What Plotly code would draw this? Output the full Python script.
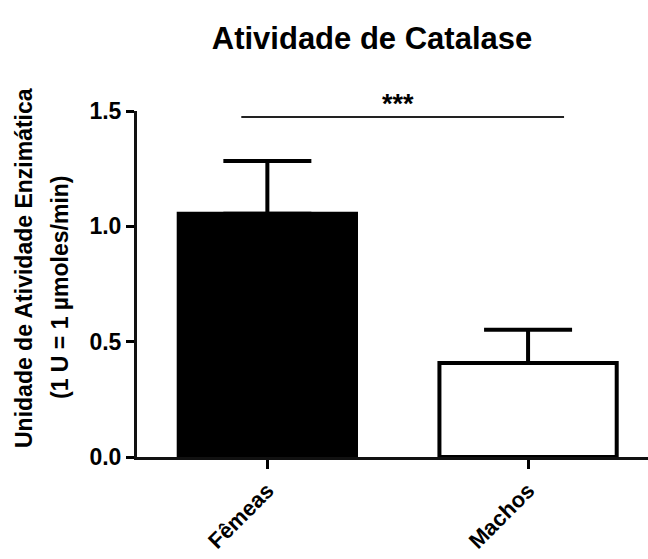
import plotly.graph_objects as go

categories = ["Fêmeas", "Machos"]
means = [1.055, 0.407]
sem = [0.228, 0.145]
fill_colors = ["#000000", "#ffffff"]

title_text = "Atividade de Catalase"
ytitle_line1 = "Unidade de Atividade Enzimática"
ytitle_line2 = "(1 U = 1 µmoles/min)"
sig_text = "***"
sig_y = 1.474
tick_vals = [0.0, 0.5, 1.0, 1.5]

FONT = "Liberation Sans, Arial, Helvetica, sans-serif"

plot_left = 137
plot_right = 648
plot_top = 111
plot_bottom = 457
plot_w = plot_right - plot_left
plot_h = plot_bottom - plot_top

fig = go.Figure()
fig.add_trace(go.Bar(
    x=categories,
    y=means,
    width=0.68,
    marker=dict(color=fill_colors, line=dict(color="#000000", width=4)),
    error_y=dict(type="data", array=sem, arrayminus=[0, 0], symmetric=False,
                 color="#000000", thickness=4, width=44),
    showlegend=False,
))

fig.add_shape(type="line", xref="x", yref="y", x0=-0.1, x1=1.138, y0=sig_y, y1=sig_y,
              line=dict(color="#222222", width=2))
fig.add_annotation(text=sig_text, xref="x", yref="y", x=0.502, y=sig_y, yanchor="bottom",
                   showarrow=False, yshift=-4,
                   font=dict(family=FONT, size=27, color="#000000", weight="bold"))

fig.add_annotation(text=ytitle_line1, xref="paper", yref="paper",
                   x=(24 - plot_left) / plot_w, y=(plot_bottom - 268) / plot_h,
                   xanchor="center", yanchor="middle",
                   showarrow=False, textangle=-90,
                   font=dict(family=FONT, size=23, color="#000000", weight="bold"))
fig.add_annotation(text=ytitle_line2, xref="paper", yref="paper",
                   x=(60 - plot_left) / plot_w, y=(plot_bottom - 287) / plot_h,
                   xanchor="center", yanchor="middle",
                   showarrow=False, textangle=-90,
                   font=dict(family=FONT, size=23, color="#000000", weight="bold"))

fig.update_layout(
    width=648, height=559,
    margin=dict(l=plot_left, r=648 - plot_right, t=plot_top, b=559 - plot_bottom),
    paper_bgcolor="#ffffff", plot_bgcolor="#ffffff",
    title=dict(text=title_text, x=372 / 648, xanchor="center", xref="container",
               y=1 - 38 / 559, yanchor="middle", yref="container",
               font=dict(family=FONT, size=31, color="#000000", weight="bold"),
               automargin=False),
)
fig.update_xaxes(range=[-0.5, 1.46], showline=True, linecolor="#111111", linewidth=3,
                 ticks="outside", ticklen=9, tickwidth=3, tickcolor="#000000",
                 tickangle=-45, showgrid=False, zeroline=False, automargin=False,
                 tickfont=dict(family=FONT, size=22, color="#000000", weight="bold"))
fig.update_yaxes(range=[0, 1.5], tickvals=tick_vals, tickformat=".1f",
                 showline=True, linecolor="#111111", linewidth=3,
                 ticks="outside", ticklen=8, tickwidth=3, tickcolor="#000000",
                 showgrid=False, zeroline=False, automargin=False,
                 tickfont=dict(family=FONT, size=23, color="#000000", weight="bold"))

fig.write_html("out.html")
